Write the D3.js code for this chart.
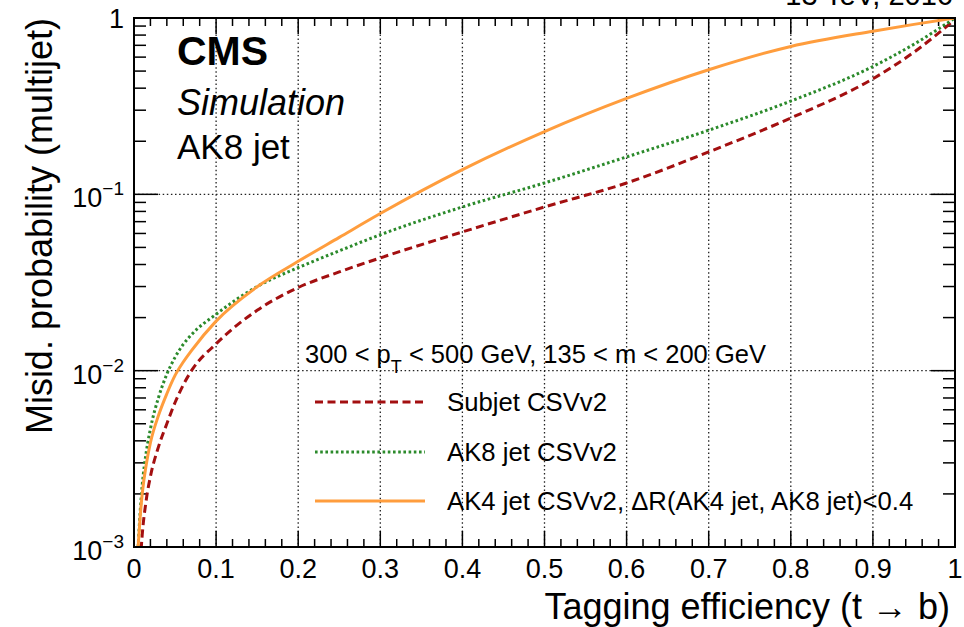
<!DOCTYPE html>
<html>
<head>
<meta charset="utf-8">
<script src="https://cdn.jsdelivr.net/npm/d3@7"></script>
<style>
body { margin: 0; background: white; }
svg text { font-family: "Liberation Sans", Arial, Helvetica, sans-serif; fill: #000; }
</style>
</head>
<body>
<div id="chart"></div>
<script>
// tagging efficiency points shared by the three curves
const efficiency = [0.005, 0.0075, 0.01, 0.015, 0.02, 0.03, 0.04, 0.05, 0.06, 0.07, 0.1, 0.15, 0.2, 0.25, 0.3, 0.4, 0.5, 0.6, 0.7, 0.8, 0.9, 0.95, 1.0];
// misid. probability
const subjetCSV = [0.0005, 0.0008, 0.00117, 0.00186, 0.00251, 0.00372, 0.0050, 0.0066, 0.0083, 0.0100, 0.0142, 0.022, 0.0296, 0.0363, 0.0436, 0.0612, 0.0848, 0.116, 0.174, 0.271, 0.452, 0.64, 0.98];
const ak8CSV = [0.001, 0.00158, 0.00224, 0.00347, 0.00468, 0.00708, 0.00955, 0.0119, 0.0141, 0.0160, 0.0209, 0.0300, 0.0384, 0.0478, 0.059, 0.0848, 0.116, 0.163, 0.231, 0.338, 0.531, 0.71, 1.0];
const ak4CSV = [0.001, 0.00148, 0.0020, 0.00295, 0.0039, 0.0056, 0.0074, 0.0094, 0.0112, 0.0130, 0.0191, 0.0299, 0.0417, 0.057, 0.0778, 0.138, 0.227, 0.35, 0.509, 0.69, 0.842, 0.92, 1.0];

const xTicks = [0, 0.1, 0.2, 0.3, 0.4, 0.5, 0.6, 0.7, 0.8, 0.9, 1];
const xTickLabels = ["0", "0.1", "0.2", "0.3", "0.4", "0.5", "0.6", "0.7", "0.8", "0.9", "1"];
const yDecades = [0.001, 0.01, 0.1, 1];
const yExponents = ["\u22123", "\u22122", "\u22121", ""];
const legendLabels = ["Subjet CSVv2", "AK8 jet CSVv2", "AK4 jet CSVv2, \u0394R(AK4 jet, AK8 jet)<0.4"];

const width = 964;
const height = 627;
const plotLeft = 134, plotRight = 955, plotTop = 18, plotBottom = 547;

const svg = d3.select("#chart").append("svg")
    .attr("width", width)
    .attr("height", height)
    .style("background-color", "white");

const x = d3.scaleLinear().domain([0, 1]).range([plotLeft, plotRight]);
const y = d3.scaleLog().domain([0.001, 1]).range([plotBottom, plotTop]);

// grid (dotted)
const grid = svg.append("g")
    .attr("stroke", "#222")
    .attr("stroke-width", 1.3)
    .attr("stroke-dasharray", "1.5,2.6");
grid.selectAll("line.gx")
    .data(xTicks.slice(1, -1))
    .enter().append("line")
    .attr("x1", d => x(d)).attr("x2", d => x(d))
    .attr("y1", plotTop).attr("y2", plotBottom);
grid.selectAll("line.gy")
    .data(yDecades.slice(1, -1))
    .enter().append("line")
    .attr("x1", plotLeft).attr("x2", plotRight)
    .attr("y1", d => y(d)).attr("y2", d => y(d));

// ticks on all four sides
const minorX = d3.range(0, 50).map(i => i * 0.02).filter(v => Math.abs(v * 10 - Math.round(v * 10)) > 1e-6);
const minorY = [];
yDecades.slice(0, -1).forEach(dec => {
    for (let k = 2; k <= 9; k++) minorY.push(dec * k);
});
const ticks = svg.append("g").attr("stroke", "#000").attr("stroke-width", 1.5);
[plotBottom, plotTop].forEach(yy => {
    const dir = yy === plotBottom ? -1 : 1;
    ticks.selectAll(null).data(xTicks).enter().append("line")
        .attr("x1", d => x(d)).attr("x2", d => x(d))
        .attr("y1", yy).attr("y2", yy + dir * 16);
    ticks.selectAll(null).data(minorX).enter().append("line")
        .attr("x1", d => x(d)).attr("x2", d => x(d))
        .attr("y1", yy).attr("y2", yy + dir * 8);
});
[plotLeft, plotRight].forEach(xx => {
    const dir = xx === plotLeft ? 1 : -1;
    ticks.selectAll(null).data(yDecades).enter().append("line")
        .attr("x1", xx).attr("x2", xx + dir * 24)
        .attr("y1", d => y(d)).attr("y2", d => y(d));
    ticks.selectAll(null).data(minorY).enter().append("line")
        .attr("x1", xx).attr("x2", xx + dir * 12)
        .attr("y1", d => y(d)).attr("y2", d => y(d));
});

// curves
svg.append("clipPath").attr("id", "plotclip")
    .append("rect").attr("x", plotLeft).attr("y", plotTop)
    .attr("width", plotRight - plotLeft).attr("height", plotBottom - plotTop);

const series = [
    { values: subjetCSV, color: "#a30f10", dash: "8,4.5", width: 3 },
    { values: ak8CSV, color: "#2b8a2b", dash: "2.6,2.6", width: 3 },
    { values: ak4CSV, color: "#ff9d3d", dash: null, width: 3 }
];
const line = d3.line()
    .x(d => x(d[0]))
    .y(d => y(d[1]))
    .curve(d3.curveMonotoneX);

svg.append("g").attr("clip-path", "url(#plotclip)")
    .selectAll("path")
    .data(series)
    .enter().append("path")
    .attr("d", s => line(efficiency.map((e, i) => [e, s.values[i]])))
    .attr("fill", "none")
    .attr("stroke", s => s.color)
    .attr("stroke-width", s => s.width)
    .attr("stroke-dasharray", s => s.dash);

// frame
svg.append("rect")
    .attr("x", plotLeft).attr("y", plotTop)
    .attr("width", plotRight - plotLeft).attr("height", plotBottom - plotTop)
    .attr("fill", "none").attr("stroke", "#000").attr("stroke-width", 2);

// x tick labels
svg.selectAll("text.xl")
    .data(xTicks)
    .enter().append("text")
    .attr("x", d => x(d))
    .attr("y", 578)
    .attr("text-anchor", "middle")
    .style("font-size", "27px")
    .text((d, i) => xTickLabels[i]);

// y tick labels (10^n)
const yl = svg.selectAll("text.yl")
    .data(yDecades)
    .enter().append("text")
    .attr("x", 124)
    .attr("y", d => y(d) + 13)
    .attr("text-anchor", "end")
    .style("font-size", "27px");
yl.each(function(d, i) {
    const t = d3.select(this);
    if (yExponents[i] === "") {
        t.attr("y", y(d) + 10).text("1");
    } else {
        t.append("tspan").text("10");
        t.append("tspan").attr("dy", -12).style("font-size", "19px").text(yExponents[i]);
    }
});

// axis titles
svg.append("text")
    .attr("x", 950).attr("y", 619)
    .attr("text-anchor", "end")
    .style("font-size", "36px")
    .text("Tagging efficiency (t \u2192 b)");
svg.append("text")
    .attr("transform", "translate(52," + plotTop + ") rotate(-90)")
    .attr("text-anchor", "end")
    .style("font-size", "36px")
    .text("Misid. probability (multijet)");

// top right, cut by the edge as in the original
svg.append("text")
    .attr("x", 953).attr("y", 5)
    .attr("text-anchor", "end")
    .style("font-size", "29px")
    .text("13 TeV, 2016");

// CMS labels
svg.append("text").attr("x", 177).attr("y", 65)
    .style("font-size", "41px").style("font-weight", "bold").text("CMS");
svg.append("text").attr("x", 177).attr("y", 115)
    .style("font-size", "36px").style("font-style", "italic").text("Simulation");
svg.append("text").attr("x", 177).attr("y", 159)
    .style("font-size", "35px").text("AK8 jet");

// legend
const header = svg.append("text").attr("x", 305).attr("y", 363).style("font-size", "25.5px");
header.append("tspan").text("300 < p");
header.append("tspan").attr("dy", 10).style("font-size", "18px").text("T");
header.append("tspan").attr("dy", -10).text(" < 500 GeV, 135 < m < 200 GeV");

const legendY = [402, 452, 501];
const leg = svg.append("g").selectAll("g")
    .data(series)
    .enter().append("g")
    .attr("transform", (d, i) => "translate(0," + legendY[i] + ")");
leg.append("line")
    .attr("x1", 315).attr("x2", 425)
    .attr("stroke", d => d.color)
    .attr("stroke-width", d => d.width)
    .attr("stroke-dasharray", d => d.dash);
leg.append("text")
    .attr("x", 447).attr("y", 9)
    .style("font-size", "25.7px")
    .text((d, i) => legendLabels[i]);
</script>
</body>
</html>
